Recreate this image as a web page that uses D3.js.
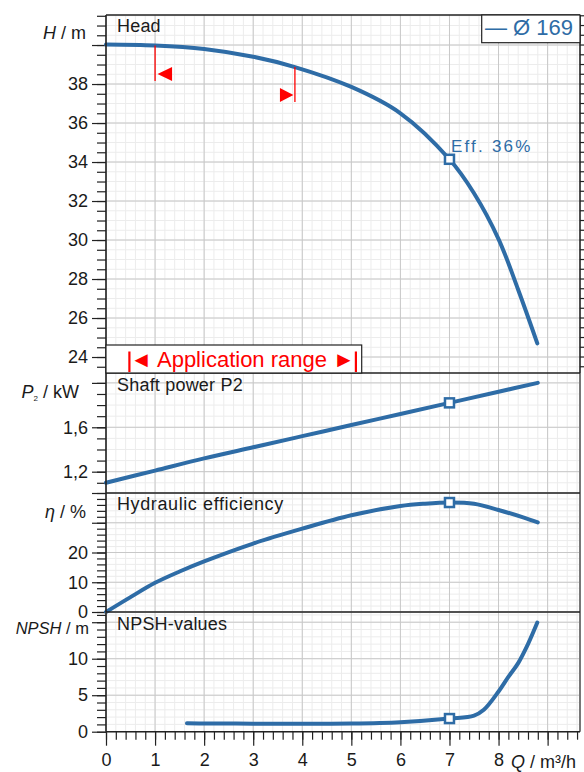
<!DOCTYPE html>
<html>
<head>
    <meta charset="utf-8">
    <script src="https://d3js.org/d3.v7.min.js"></script>
    <style>
        body { margin: 0; background: #fff; }
        text { font-family: "Liberation Sans", Arial, sans-serif; fill: #1a1a1a; }
    </style>
</head>
<body>
<div id="chart"></div>
<script>
    // head curve, Q in m3/h, H in m
    var headQ = [0, 1, 2, 3, 3.85, 5, 6, 7, 7.5, 8, 8.4, 8.79];
    var headH = [40.03, 39.98, 39.8, 39.4, 38.87, 37.85, 36.5, 34.14, 32.4, 30.05, 27.45, 24.7];

    // shaft power P2 in kW
    var powerQ = [0, 1, 2, 3, 4, 5, 6, 7, 8, 8.8];
    var powerP = [1.10, 1.21, 1.32, 1.42, 1.52, 1.62, 1.72, 1.82, 1.92, 2.0];

    // hydraulic efficiency in %
    var effQ = [0, 0.5, 1, 1.5, 2, 3, 4, 5, 6, 6.5, 7, 7.5, 8, 8.5, 8.8];
    var effE = [0, 5, 9.8, 13.6, 17, 23, 28, 32.5, 35.6, 36.4, 36.8, 36.4, 34.3, 31.8, 30.1];

    // NPSH in m
    var npshQ = [1.65, 2, 3, 4, 5, 6, 7, 7.5, 7.7, 8, 8.2, 8.4, 8.6, 8.79];
    var npshN = [1.15, 1.13, 1.1, 1.1, 1.12, 1.3, 1.8, 2.2, 3.0, 5.5, 7.5, 9.4, 12.0, 14.95];

    // duty point and application range
    var dutyQ = 7;
    var rangeQ = [1, 3.85];

    // tick labels
    var xTickLabels = [0, 1, 2, 3, 4, 5, 6, 7, 8];
    var headTickLabels = [24, 26, 28, 30, 32, 34, 36, 38];
    var powerTickLabels = [1.2, 1.6];
    var effTickLabels = [0, 10, 20];
    var npshTickLabels = [0, 5, 10];

    var blue = "#2e6ca6";
    var left = 106, right = 580, bottom = 731.7;

    var svg = d3.select("#chart")
        .append("svg")
        .attr("width", 584)
        .attr("height", 772);

    var x = d3.scaleLinear().domain([0, 9.66]).range([left, right]);

    // one entry per stacked panel
    var panels = [
        {title: "Head", top: 15, bottom: 373, domain: [23.18, 41.54], minor: 0.5, major: 2, labels: headTickLabels, q: headQ, v: headH},
        {title: "Shaft power P2", top: 373, bottom: 493, domain: [1.008, 2.089], minor: 0.1, major: 0.4, labels: powerTickLabels, q: powerQ, v: powerP},
        {title: "Hydraulic efficiency", top: 493, bottom: 612, domain: [0, 40], minor: 2, major: 10, labels: effTickLabels, q: effQ, v: effE},
        {title: "NPSH-values", top: 612, bottom: bottom, domain: [0, 16.4], minor: 1, major: 5, labels: npshTickLabels, q: npshQ, v: npshN}
    ];

    function steps(lo, hi, step) {
        return d3.range(Math.ceil(lo / step - 1e-6), Math.floor(hi / step + 1e-6) + 1)
            .map(function(i) { return +(i * step).toFixed(3); });
    }

    var xMinor = steps(0, 9.66, 0.2);
    var xMajor = steps(0, 9.66, 1);

    panels.forEach(function(p) {
        p.y = d3.scaleLinear().domain(p.domain).range([p.bottom, p.top]);
        var g = svg.append("g");

        // minor grid
        g.selectAll(".vmin").data(xMinor).enter().append("line")
            .attr("x1", x).attr("x2", x)
            .attr("y1", p.top).attr("y2", p.bottom)
            .attr("stroke", "#ececec").attr("stroke-width", 1);
        g.selectAll(".hmin").data(steps(p.domain[0], p.domain[1], p.minor)).enter().append("line")
            .attr("x1", left).attr("x2", right)
            .attr("y1", p.y).attr("y2", p.y)
            .attr("stroke", "#ececec").attr("stroke-width", 1);

        // major grid
        g.selectAll(".vmaj").data(xMajor).enter().append("line")
            .attr("x1", x).attr("x2", x)
            .attr("y1", p.top).attr("y2", p.bottom)
            .attr("stroke", "#c8c8c8").attr("stroke-width", 1);
        g.selectAll(".hmaj").data(steps(p.domain[0], p.domain[1], p.major)).enter().append("line")
            .attr("x1", left).attr("x2", right)
            .attr("y1", p.y).attr("y2", p.y)
            .attr("stroke", "#c8c8c8").attr("stroke-width", 1);

        // left axis ticks
        var minorAxis = d3.axisLeft(p.y)
            .tickValues(steps(p.domain[0], p.domain[1], p.minor))
            .tickSize(9).tickFormat("");
        svg.append("g").attr("transform", "translate(" + left + ",0)").call(minorAxis)
            .call(function(a) { a.select(".domain").remove(); })
            .selectAll("line").attr("stroke", "#222").attr("stroke-width", 1.2);

        var majorAxis = d3.axisLeft(p.y)
            .tickValues(steps(p.domain[0], p.domain[1], p.major))
            .tickSize(14)
            .tickFormat(function(d) {
                return p.labels.indexOf(d) >= 0 ? String(d).replace(".", ",") : "";
            });
        var ax = svg.append("g").attr("transform", "translate(" + left + ",0)").call(majorAxis);
        ax.select(".domain").remove();
        ax.selectAll("line").attr("stroke", "#222").attr("stroke-width", 1.2);
        ax.selectAll("text")
            .attr("x", -18)
            .style("font-size", "18px")
            .style("font-family", "'Liberation Sans', Arial, sans-serif")
            .attr("fill", "#1a1a1a");

        // curve
        var line = d3.line()
            .x(function(d) { return x(d[0]); })
            .y(function(d) { return p.y(d[1]); })
            .curve(d3.curveCatmullRom.alpha(0.5));
        svg.append("path")
            .datum(d3.zip(p.q, p.v))
            .attr("d", line)
            .attr("fill", "none")
            .attr("stroke", blue)
            .attr("stroke-width", 4)
            .attr("stroke-linecap", "round");

        // duty point marker
        var dutyV = d3.scaleLinear().domain(p.q).range(p.v)(dutyQ);
        svg.append("rect")
            .attr("x", x(dutyQ) - 4.5)
            .attr("y", p.y(dutyV) - 4.5)
            .attr("width", 9).attr("height", 9)
            .attr("fill", "#fff")
            .attr("stroke", blue)
            .attr("stroke-width", 2.5);

        p.dutyV = dutyV;
    });

    // head panel: right side ticks
    var head = panels[0];
    svg.append("g").selectAll("line")
        .data(steps(head.domain[0], head.domain[1], 0.5)).enter().append("line")
        .attr("x1", right).attr("x2", right + 5)
        .attr("y1", head.y).attr("y2", head.y)
        .attr("stroke", "#222").attr("stroke-width", 1.2);

    // frames
    svg.append("line").attr("x1", right).attr("x2", right).attr("y1", 373).attr("y2", bottom)
        .attr("stroke", "#777").attr("stroke-width", 2);
    svg.append("line").attr("x1", right).attr("x2", right).attr("y1", 15).attr("y2", 373)
        .attr("stroke", "#222").attr("stroke-width", 1.6);
    [15, 373, 493, 612].forEach(function(yy) {
        svg.append("line").attr("x1", left).attr("x2", right).attr("y1", yy).attr("y2", yy)
            .attr("stroke", "#222").attr("stroke-width", 1.3);
    });
    svg.append("line").attr("x1", left).attr("x2", left).attr("y1", 15).attr("y2", bottom)
        .attr("stroke", "#222").attr("stroke-width", 1.6);

    // x axis
    var xMinorAxis = d3.axisBottom(x).tickValues(xMinor).tickSize(8).tickFormat("");
    svg.append("g").attr("transform", "translate(0," + bottom + ")").call(xMinorAxis)
        .call(function(a) { a.select(".domain").remove(); })
        .selectAll("line").attr("stroke", "#222").attr("stroke-width", 1.2);
    var xMajorAxis = d3.axisBottom(x).tickValues(xMajor).tickSize(14)
        .tickFormat(function(d) { return xTickLabels.indexOf(d) >= 0 ? d : ""; });
    var xa = svg.append("g").attr("transform", "translate(0," + bottom + ")").call(xMajorAxis);
    xa.select(".domain").remove();
    xa.selectAll("line").attr("stroke", "#222").attr("stroke-width", 1.2);
    xa.selectAll("text")
        .attr("y", 22)
        .style("font-size", "18px")
        .style("font-family", "'Liberation Sans', Arial, sans-serif")
        .attr("fill", "#1a1a1a");
    svg.append("line").attr("x1", left).attr("x2", right).attr("y1", bottom).attr("y2", bottom)
        .attr("stroke", "#222").attr("stroke-width", 1.6);

    var qLabel = svg.append("text").attr("x", 511).attr("y", 768).style("font-size", "18px");
    qLabel.append("tspan").attr("font-style", "italic").text("Q");
    qLabel.append("tspan").text(" / m³/h");

    // panel titles
    var titleY = [32, 391, 510, 630];
    panels.forEach(function(p, i) {
        svg.append("text").attr("x", 117).attr("y", titleY[i])
            .style("font-size", "18px")
            .style("letter-spacing", i == 2 ? "0.6px" : "0.2px")
            .text(p.title);
    });

    // axis titles
    var t;
    t = svg.append("text").attr("x", 86).attr("y", 39).attr("text-anchor", "end").style("font-size", "18px");
    t.append("tspan").attr("font-style", "italic").text("H");
    t.append("tspan").text(" / m");

    t = svg.append("text").attr("x", 79).attr("y", 398).attr("text-anchor", "end").style("font-size", "18px");
    t.append("tspan").attr("font-style", "italic").text("P");
    t.append("tspan").attr("dy", 3).style("font-size", "8px").text("2");
    t.append("tspan").attr("dy", -3).text("  / kW");

    t = svg.append("text").attr("x", 86).attr("y", 518).attr("text-anchor", "end").style("font-size", "18px");
    t.append("tspan").attr("font-style", "italic").text("η");
    t.append("tspan").text(" / %");

    t = svg.append("text").attr("x", 89).attr("y", 634).attr("text-anchor", "end").style("font-size", "16.5px");
    t.append("tspan").attr("font-style", "italic").text("NPSH");
    t.append("tspan").text(" / m");

    // efficiency label at duty point
    svg.append("text")
        .attr("x", x(dutyQ) + 1.5)
        .attr("y", head.y(head.dutyV) - 7)
        .style("font-size", "17px")
        .style("letter-spacing", "2.2px")
        .style("fill", blue)
        .text("Eff. 36%");

    // legend
    svg.append("rect").attr("x", 481.7).attr("y", 15).attr("width", right - 481.7).attr("height", 27.7)
        .attr("fill", "#fff").attr("stroke", "#222").attr("stroke-width", 1.2);
    svg.append("text").attr("x", 573).attr("y", 35).attr("text-anchor", "end")
        .style("font-size", "22px").style("fill", blue).text("— Ø 169");

    // application range markers on the head curve
    var headAt = d3.scaleLinear().domain(headQ).range(headH);
    var r0 = x(rangeQ[0]), r1 = x(rangeQ[1]);
    svg.append("line").attr("x1", r0).attr("x2", r0)
        .attr("y1", head.y(headAt(rangeQ[0]))).attr("y2", 81)
        .attr("stroke", "red").attr("stroke-width", 1.3);
    svg.append("path")
        .attr("d", "M" + (r0 + 2.5) + ",74 L" + (r0 + 17) + ",67 L" + (r0 + 17) + ",81 Z")
        .attr("fill", "red");
    svg.append("line").attr("x1", r1).attr("x2", r1)
        .attr("y1", head.y(headAt(rangeQ[1]))).attr("y2", 102)
        .attr("stroke", "red").attr("stroke-width", 1.3);
    svg.append("path")
        .attr("d", "M" + (r1 - 1.5) + ",95 L" + (r1 - 15) + ",88 L" + (r1 - 15) + ",102 Z")
        .attr("fill", "red");

    // application range box
    svg.append("rect").attr("x", left).attr("y", 345).attr("width", 255.7).attr("height", 28)
        .attr("fill", "#fff").attr("stroke", "#222").attr("stroke-width", 1.2);
    svg.append("rect").attr("x", 128.3).attr("y", 351.5).attr("width", 2.2).attr("height", 20.5).attr("fill", "red");
    svg.append("rect").attr("x", 354.8).attr("y", 351.5).attr("width", 2.2).attr("height", 20.5).attr("fill", "red");
    svg.append("text").attr("x", 242.6).attr("y", 366.5).attr("text-anchor", "middle")
        .style("font-size", "22px").style("fill", "red").text("◄ Application range ►");
</script>
</body>
</html>
